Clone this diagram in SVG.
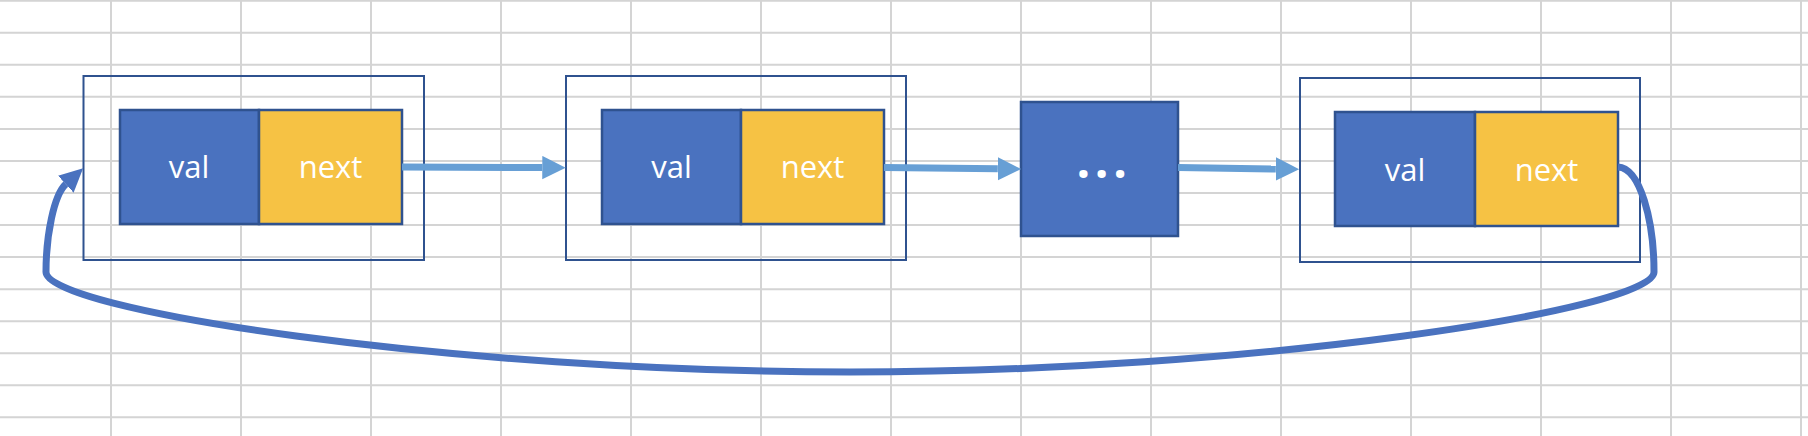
<svg xmlns="http://www.w3.org/2000/svg" width="1808" height="436" viewBox="0 0 1808 436">
<style>
.grid{stroke:#d4d4d4;stroke-width:2;fill:none}
.outer{fill:none;stroke:#2f528f;stroke-width:2}
.val{fill:#4a72bf;stroke:#2f528f;stroke-width:2.5}
.nxt{fill:#f6c244;stroke:#2f528f;stroke-width:2.5}
.lbl{font-family:"Open Sans","Liberation Sans",sans-serif;font-size:31px;fill:#ffffff;text-anchor:middle}
.link{fill:none;stroke:#679fd5;stroke-width:7}
.back{fill:none;stroke:#4a72bf;stroke-width:7}
</style>
<defs>
<marker id="headLight" markerUnits="userSpaceOnUse" markerWidth="24" markerHeight="24" viewBox="0 0 24 24" refX="0" refY="11.7" orient="auto">
<path d="M0,0 L23.4,11.7 L0,23.4 z" fill="#679fd5"/>
</marker>
<marker id="headDark" markerUnits="userSpaceOnUse" markerWidth="24" markerHeight="24" viewBox="0 0 24 24" refX="0" refY="11.5" orient="auto">
<path d="M0,0 L23.5,11.5 L0,23 z" fill="#4a72bf"/>
</marker>
</defs>
<rect width="1808" height="436" fill="#ffffff"/>
<g id="grid" class="grid">
<path d="M0,0.7H1808M0,32.75H1808M0,64.8H1808M0,96.85H1808M0,128.9H1808M0,160.95H1808M0,193H1808M0,225H1808M0,257.1H1808M0,289.15H1808M0,321.2H1808M0,353.25H1808M0,385.3H1808M0,417.35H1808"/>
<path d="M111,0V436M241,0V436M371,0V436M501,0V436M631,0V436M761,0V436M891,0V436M1021,0V436M1151,0V436M1281,0V436M1411,0V436M1541,0V436M1671,0V436M1801,0V436"/>
</g>
<g id="node1">
<rect class="outer" x="83.5" y="76" width="340.5" height="184"/>
<rect class="val" x="120" y="110" width="139" height="114"/>
<rect class="nxt" x="259" y="110" width="143" height="114"/>
<text class="lbl" x="189" y="178">val</text>
<text class="lbl" x="330.5" y="178">next</text>
</g>
<g id="node2">
<rect class="outer" x="566" y="76" width="340" height="184"/>
<rect class="val" x="602" y="110" width="139" height="114"/>
<rect class="nxt" x="741" y="110" width="143" height="114"/>
<text class="lbl" x="671.5" y="178">val</text>
<text class="lbl" x="812.5" y="178">next</text>
</g>
<g id="node3">
<rect class="val" x="1021" y="102" width="157" height="134"/>
<text x="1104" y="178" font-family="'Open Sans','Liberation Sans',sans-serif" font-size="48" font-weight="bold" fill="#ffffff" text-anchor="middle" letter-spacing="4.6">...</text>
</g>
<g id="node4">
<rect class="outer" x="1300" y="78" width="340" height="184"/>
<rect class="val" x="1335" y="112" width="140" height="114"/>
<rect class="nxt" x="1475" y="112" width="143" height="114"/>
<text class="lbl" x="1405" y="181">val</text>
<text class="lbl" x="1546.5" y="181">next</text>
</g>
<g id="connectors">
<path class="link" d="M402,167 L542.3,167.6" marker-end="url(#headLight)"/>
<path class="link" d="M884,167.5 L997.8,168.8" marker-end="url(#headLight)"/>
<path class="link" d="M1178,167.5 L1275.8,169" marker-end="url(#headLight)"/>
<path class="back" d="M1618,167 C1640,168 1654,220 1654,272 C1654,310 1250,372 850,372 C450,372 46,310 46,272 C46,235 54,195 65.8,184.2" marker-end="url(#headDark)"/>
</g>
</svg>
